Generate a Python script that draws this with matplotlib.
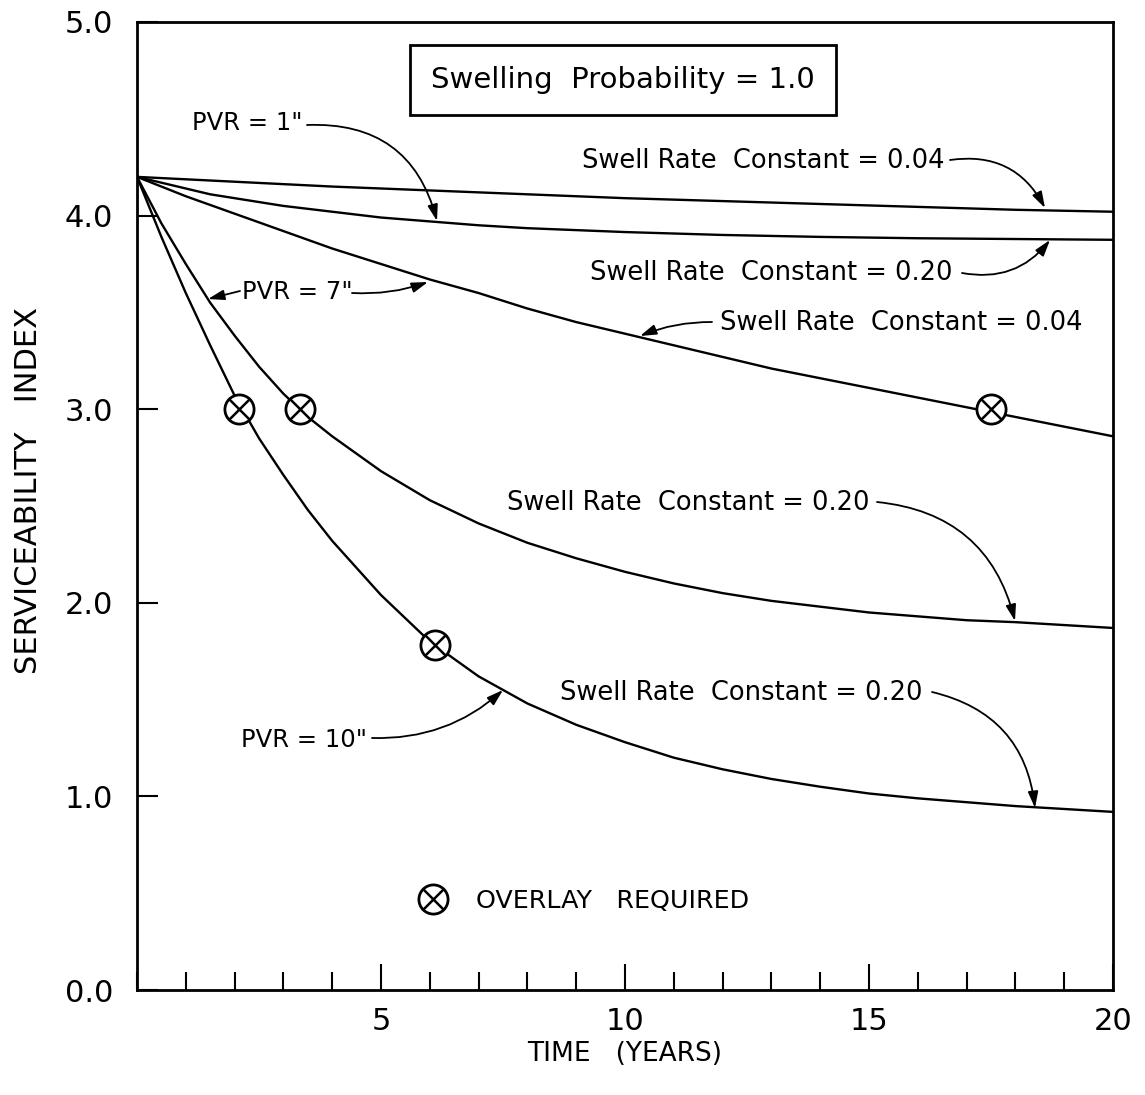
import matplotlib
matplotlib.use("Agg")
import matplotlib.pyplot as plt
from matplotlib.lines import Line2D
from matplotlib.legend_handler import HandlerTuple
from matplotlib.ticker import MultipleLocator, FixedLocator

plt.rcParams['font.family'] = ['DejaVu Sans']

# ---------------- data ----------------
# PVR = 1", swell rate constant 0.04
t_a = [0, 2, 4, 6, 8, 10, 12, 14, 16, 18, 20]
s_a = [4.20, 4.175, 4.15, 4.13, 4.11, 4.09, 4.075, 4.06, 4.045, 4.03, 4.02]

# PVR = 1", swell rate constant 0.20
t_b = [0, 0.5, 1, 1.5, 2, 2.5, 3, 4, 5, 6, 7, 8, 9, 10, 12, 14, 16, 18, 20]
s_b = [4.20, 4.17, 4.14, 4.11, 4.09, 4.07, 4.05, 4.02, 3.99, 3.97, 3.95, 3.935,
       3.925, 3.915, 3.90, 3.89, 3.883, 3.879, 3.875]

# PVR = 7", swell rate constant 0.04
t_c = list(range(0, 21))
s_c = [4.20, 4.10, 4.01, 3.92, 3.83, 3.75, 3.67, 3.60, 3.52, 3.45, 3.39, 3.33,
       3.27, 3.21, 3.16, 3.11, 3.06, 3.01, 2.96, 2.91, 2.86]

# PVR = 7", swell rate constant 0.20
t_d = [0, 0.5, 1, 1.5, 2, 2.5, 3, 3.5, 4, 5, 6, 7, 8, 9, 10, 11, 12, 13, 14,
       15, 16, 17, 18, 19, 20]
s_d = [4.20, 3.96, 3.75, 3.55, 3.38, 3.22, 3.08, 2.96, 2.86, 2.68, 2.53, 2.41,
       2.31, 2.23, 2.16, 2.10, 2.05, 2.01, 1.98, 1.95, 1.93, 1.91, 1.90, 1.885,
       1.87]

# PVR = 10", swell rate constant 0.20
t_e = [0, 0.5, 1, 1.5, 2, 2.5, 3, 3.5, 4, 5, 6, 7, 8, 9, 10, 11, 12, 13, 14,
       15, 16, 17, 18, 19, 20]
s_e = [4.20, 3.89, 3.60, 3.33, 3.07, 2.85, 2.66, 2.48, 2.32, 2.04, 1.80, 1.62,
       1.48, 1.37, 1.28, 1.20, 1.14, 1.09, 1.05, 1.015, 0.99, 0.97, 0.95, 0.935,
       0.92]

# overlay-required points
overlay_t = [2.1, 3.35, 6.1, 17.5]
overlay_s = [3.0, 3.0, 1.78, 3.0]

x_major = [5, 10, 15, 20]
x_major_labels = ['5', '10', '15', '20']
y_ticks = [0, 1, 2, 3, 4, 5]
y_labels = ['0.0', '1.0', '2.0', '3.0', '4.0', '5.0']

# ---------------- figure ----------------
W, H = 1145, 1095
fig = plt.figure(figsize=(W / 100, H / 100), dpi=100)
L, R, T, B = 137, 1113, 22, 990
ax = fig.add_axes([L / W, 1 - B / H, (R - L) / W, (B - T) / H])
ax.set_xlim(0, 20)
ax.set_ylim(0, 5)


def px(x, y):
    """pixel position in the reference -> data coordinates (for text placement)"""
    return ((x - L) / (R - L) * 20.0, (B - y) / (B - T) * 5.0)


lw = 1.7
for tt, ss in [(t_a, s_a), (t_b, s_b), (t_c, s_c), (t_d, s_d), (t_e, s_e)]:
    ax.plot(tt, ss, color='black', lw=lw, solid_capstyle='round',
            solid_joinstyle='round', zorder=3)

ax.plot(overlay_t, overlay_s, marker='o', ms=21, mfc='white', mec='black',
        mew=2.0, zorder=5, ls='none')
ax.plot(overlay_t, overlay_s, marker='x', ms=14.5, mec='black', mew=1.8,
        zorder=6, ls='none')

# spines / ticks
for sp in ax.spines.values():
    sp.set_linewidth(2.0)
ax.xaxis.set_major_locator(FixedLocator(x_major))
ax.set_xticklabels(x_major_labels)
ax.xaxis.set_minor_locator(MultipleLocator(1))
ax.tick_params(axis='x', which='major', direction='in', length=19, width=1.5,
               pad=12, labelsize=22, top=False)
ax.tick_params(axis='x', which='minor', direction='in', length=13, width=1.5,
               top=False)
ax.set_yticks(y_ticks)
ax.set_yticklabels(y_labels)
ax.tick_params(axis='y', which='major', direction='in', length=15, width=1.5,
               pad=17, labelsize=22, right=False)

ax.set_xlabel('TIME   (YEARS)', fontsize=19, labelpad=4)
ax.set_ylabel('SERVICEABILITY   INDEX', fontsize=22)
ax.yaxis.set_label_coords((43 - L) / (R - L), (B - 490) / (B - T))

# title box
ax.text(*px(623, 80), 'Swelling  Probability = 1.0', fontsize=21,
        ha='center', va='center',
        bbox=dict(boxstyle='square,pad=0.72', fc='white', ec='black', lw=2.0))

fs = 18.5
fs_pvr = 17.5
labels = [
    ('PVR = 1"', (247, 123), fs_pvr),
    ('Swell Rate  Constant = 0.04', (763, 161), fs),
    ('Swell Rate  Constant = 0.20', (771, 273), fs),
    ('PVR = 7"', (297, 292), fs_pvr),
    ('Swell Rate  Constant = 0.04', (901, 323), fs),
    ('Swell Rate  Constant = 0.20', (688, 503), fs),
    ('PVR = 10"', (304, 740), fs_pvr),
    ('Swell Rate  Constant = 0.20', (741, 693), fs),
]
for txt, (x, y), f in labels:
    ax.text(*px(x, y), txt, fontsize=f, ha='center', va='center', zorder=7)

arrows = [
    ((307, 125), (437, 221), -0.4),
    ((950, 160), (1045, 208), -0.35),
    ((962, 273), (1050, 240), 0.3),
    ((240, 291), (208, 299), 0.0),
    ((352, 293), (428, 282), 0.1),
    ((712, 322), (640, 336), 0.1),
    ((877, 502), (1015, 621), -0.35),
    ((372, 738), (503, 690), 0.2),
    ((932, 692), (1035, 808), -0.35),
]
for (x0, y0), (x1, y1), rad in arrows:
    ax.annotate('', xy=px(x1, y1), xytext=px(x0, y0),
                arrowprops=dict(arrowstyle='-|>,head_length=0.7,head_width=0.22',
                                connectionstyle=f'arc3,rad={rad}',
                                color='black', lw=1.3, mutation_scale=14,
                                shrinkA=0, shrinkB=0), zorder=7)

# legend for overlay symbol
h1 = Line2D([], [], marker='o', ms=21, mfc='white', mec='black', mew=2.0, ls='none')
h2 = Line2D([], [], marker='x', ms=14.5, mec='black', mew=1.8, ls='none')
leg = ax.legend([(h1, h2)], ['OVERLAY   REQUIRED'], loc='center left',
                bbox_to_anchor=((414 - L) / (R - L), (B - 901) / (B - T)),
                frameon=False, fontsize=18.3, handlelength=1.5, handletextpad=0.95,
                borderpad=0, borderaxespad=0,
                handler_map={tuple: HandlerTuple(ndivide=1)})

fig.savefig('out.png', dpi=100)
